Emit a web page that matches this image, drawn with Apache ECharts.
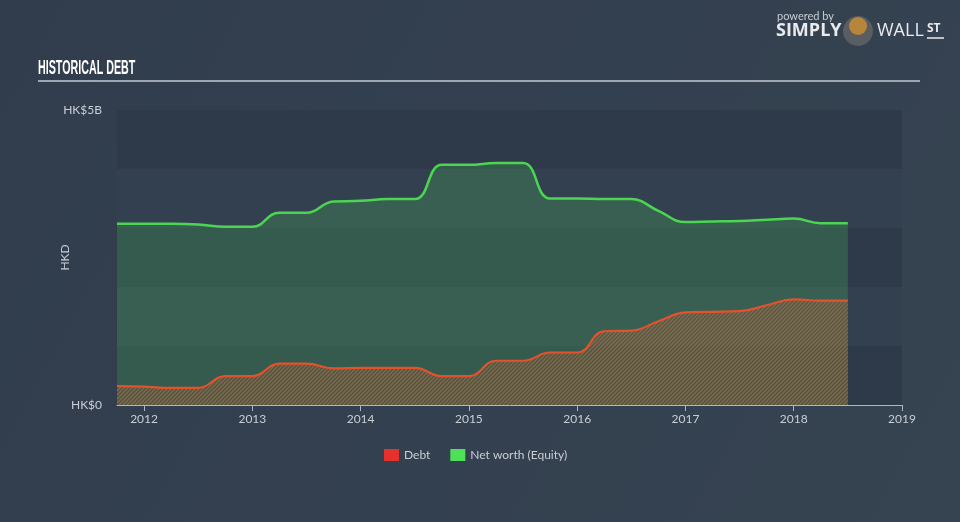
<!DOCTYPE html>
<html><head><meta charset="utf-8">
<script src="https://cdn.jsdelivr.net/npm/echarts@6/dist/echarts.min.js"></script>
<style>html,body{margin:0;padding:0;background:#333f4f;}#c{width:960px;height:522px;}</style>
</head><body><div id="c"></div>
<script>
// Quarter-end dates as decimal years
const dates = [2011.75, 2012.0, 2012.25, 2012.5, 2012.75, 2013.0, 2013.25, 2013.5, 2013.75, 2014.0, 2014.25, 2014.5, 2014.75, 2015.0, 2015.25, 2015.5, 2015.75, 2016.0, 2016.25, 2016.5, 2016.75, 2017.0, 2017.25, 2017.5, 2017.75, 2018.0, 2018.25, 2018.5];
// Values in HK$ billions
const equity = [3.07, 3.07, 3.07, 3.06, 3.02, 3.02, 3.26, 3.26, 3.45, 3.46, 3.49, 3.49, 4.07, 4.07, 4.10, 4.10, 3.50, 3.50, 3.49, 3.49, 3.29, 3.10, 3.11, 3.12, 3.14, 3.16, 3.08, 3.08];
const debt = [0.32, 0.31, 0.29, 0.29, 0.49, 0.49, 0.70, 0.70, 0.62, 0.63, 0.63, 0.63, 0.49, 0.49, 0.75, 0.75, 0.89, 0.89, 1.25, 1.26, 1.42, 1.57, 1.58, 1.59, 1.69, 1.79, 1.77, 1.77];
const yearTicks = [2012, 2013, 2014, 2015, 2016, 2017, 2018, 2019];
const yTickLabels = {0: 'HK$0', 5: 'HK$5B'};

function hatch() {
  const c = document.createElement('canvas');
  c.width = 4; c.height = 4;
  const g = c.getContext('2d');
  g.fillStyle = 'rgba(120,110,70,0.2)';
  g.fillRect(0, 0, 4, 4);
  g.strokeStyle = 'rgba(232,100,52,0.8)';
  g.lineWidth = 1.3;
  g.beginPath();
  g.moveTo(-1, 5); g.lineTo(5, -1);
  g.moveTo(-3, 3); g.lineTo(3, -3);
  g.moveTo(1, 7); g.lineTo(7, 1);
  g.stroke();
  return c;
}

const chart = echarts.init(document.getElementById('c'), null, {renderer: 'canvas'});
const txt = '#c9ced5';
chart.setOption({
  backgroundColor: {type: 'linear', x: 0, y: 0, x2: 1, y2: 1, colorStops: [{offset: 0, color: '#313d4d'}, {offset: 1, color: '#364351'}]},
  animation: false,
  grid: {left: 117, right: 58, top: 110, bottom: 117},
  legend: {
    bottom: 56, left: 379, itemWidth: 15, itemHeight: 12, itemGap: 20,
    icon: 'rect',
    textStyle: {color: txt, fontSize: 12, fontFamily: 'Lato, sans-serif'},
    data: ['Debt', 'Net worth (Equity)']
  },
  xAxis: {
    type: 'value', min: 2011.75, max: 2019,
    axisLine: {show: true, lineStyle: {color: '#aeb7c2', width: 1}},
    axisTick: {show: true, length: 6, lineStyle: {color: '#aeb7c2'}, customValues: yearTicks},
    axisLabel: {color: txt, fontSize: 12, margin: 8, fontFamily: 'Lato, sans-serif', customValues: yearTicks, formatter: v => String(Math.round(v))},
    splitLine: {show: false}
  },
  yAxis: {
    type: 'value', min: 0, max: 5, interval: 1,
    name: 'HKD', nameLocation: 'middle', nameRotate: 90, nameGap: 46, nameMoveOverlap: false,
    nameTextStyle: {color: txt, fontSize: 12, fontFamily: 'Lato, sans-serif'},
    axisLine: {show: false}, axisTick: {show: false},
    axisLabel: {color: txt, fontSize: 12, margin: 15, fontFamily: 'Lato, sans-serif', formatter: v => yTickLabels[v] || ''},
    splitLine: {show: false},
    splitArea: {show: true, areaStyle: {color: ['#2e3a4a', '#334050']}}
  },
  series: [
    {
      name: 'Net worth (Equity)', type: 'line', data: dates.map((d, i) => [d, equity[i]]),
      smooth: 0.45, showSymbol: false, z: 2,
      itemStyle: {color: '#4fe05a'},
      lineStyle: {color: '#4bd651', width: 2.5},
      areaStyle: {color: 'rgba(72,170,88,0.42)'}
    },
    {
      name: 'Debt', type: 'line', data: dates.map((d, i) => [d, debt[i]]),
      smooth: 0.45, showSymbol: false, z: 3,
      itemStyle: {color: '#e5302e'},
      lineStyle: {color: '#e3522c', width: 2.2},
      areaStyle: {color: {image: hatch(), repeat: 'repeat'}}
    }
  ],
  graphic: [
    {type: 'text', x: 38, y: 68, scaleX: 0.535, style: {text: 'HISTORICAL DEBT', x: 0, y: 0, verticalAlign: 'middle', fill: '#ffffff', font: 'bold 20px "Liberation Sans Narrow", sans-serif'}},
    {type: 'line', shape: {x1: 38, y1: 81, x2: 920, y2: 81}, style: {stroke: '#9ea6b0', lineWidth: 2}},
    {type: 'text', left: 777, top: 11, style: {text: 'powered by', fill: '#c8ccd2', font: '11px Lato, sans-serif'}},
    {type: 'text', left: 776, top: 22, style: {text: 'SIMPLY', fill: '#e8eaee', font: 'bold 18px "Open Sans", sans-serif'}},
    {type: 'circle', shape: {cx: 858, cy: 31, r: 15}, style: {fill: '#5a5d62'}},
    {type: 'circle', shape: {cx: 858, cy: 26, r: 9}, style: {fill: '#b8863a'}},
    {type: 'text', left: 877, top: 22, style: {text: 'WALL', fill: '#e8eaee', font: '18px "Open Sans", sans-serif'}},
    {type: 'text', left: 927, top: 23, style: {text: 'ST', fill: '#e8eaee', font: 'bold 12px "Open Sans", sans-serif'}},
    {type: 'line', shape: {x1: 927, y1: 38, x2: 944, y2: 38}, style: {stroke: '#e8eaee', lineWidth: 1.5}}
  ]
});
</script>
</body></html>
